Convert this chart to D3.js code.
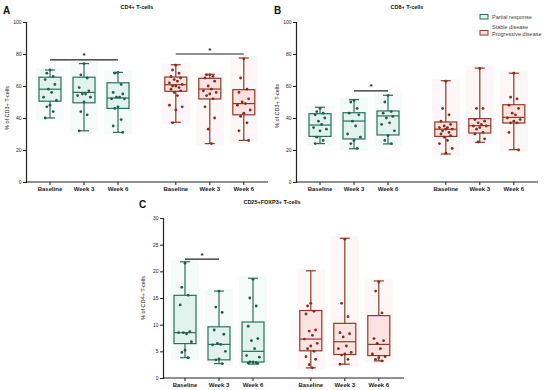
<!DOCTYPE html>
<html><head><meta charset="utf-8">
<script src="https://cdn.jsdelivr.net/npm/d3@7"></script>
<style>body{margin:0;background:#fff}svg{font-family:"Liberation Sans",Arial,sans-serif}</style>
</head><body><svg id="c" width="550" height="390"></svg>
<script>
const timepoints = ["Baseline", "Week 3", "Week 6"];
const groups = ["Partial response", "Stable disease\nProgressive disease"];

// Panel A: CD4+ T-cells (% of CD3+)
const cd4Partial = [
  [70, 68, 66, 64, 61, 58, 56, 53, 51, 48, 47, 44, 40],
  [74, 67, 65, 59, 57, 55, 55, 54, 53, 50, 44, 42, 32],
  [68.5, 68, 61, 56, 55, 53, 53, 52, 52, 47, 46, 39, 35, 31]
];
const cd4Stable = [
  [73, 70, 68, 66, 65, 64, 63, 62, 61, 60, 60, 59, 58, 57, 56, 54, 48, 47, 45, 37],
  [67, 67, 66, 65, 63, 60, 58, 57, 56, 55, 54, 52, 47, 40, 33, 24],
  [77, 65, 58, 56, 52, 50, 49, 48, 45, 43, 41, 37, 32, 26]
];
const cd4Boxes = {partial: [[40, 50.5, 58, 65.5, 70], [32, 49.5, 56, 65.5, 74], [31, 46, 52.5, 62, 68.5]],
                  stable: [[37.3, 56.7, 60.8, 65.6, 73.3], [24, 51.9, 58.1, 64.8, 67.3], [26, 42, 49, 57.7, 77.5]]};

// Panel B: CD8+ T-cells (% of CD3+)
const cd8Partial = [
  [46, 44, 43, 42, 40, 38, 36, 34, 33, 32, 28, 26, 24],
  [51, 50, 46, 43, 42, 38, 35, 30, 28, 26, 24, 21],
  [54, 50, 44, 43, 41, 40, 37, 36, 32, 29, 26, 24]
];
const cd8Stable = [
  [63, 46, 42, 38, 36, 35, 34, 34, 33, 33, 32, 31, 30, 29, 28, 26, 24, 21, 18],
  [71, 46, 46, 39, 38, 37, 36, 35, 35, 34, 33, 31, 30, 27, 25],
  [68, 53, 52, 48, 46, 43, 42, 40, 39, 38, 37, 37, 31, 20]
];
const cd8Boxes = {partial: [[24, 28.5, 35.6, 42.7, 46.7], [20.8, 26.9, 38.1, 43.3, 51.5], [23.8, 29.4, 41.3, 44.4, 54.2]],
                  stable: [[17.5, 28.5, 33, 37.5, 63.3], [24.8, 30.6, 35.2, 39.6, 71.2], [20.2, 36.9, 40.4, 48.3, 68]]};

// Panel C: CD25+FOXP3+ T-cells (% of CD4+)
const tregPartial = [
  [21.5, 17, 15.5, 13.7, 8.7, 8.5, 8.3, 8.5, 6.8, 5.2, 4.8, 3.8],
  [16.3, 13.3, 12.3, 9, 8.2, 6.5, 6.3, 6.2, 5, 3.6, 3.4, 2.7],
  [18.5, 15, 13.5, 9.7, 7.4, 7, 5.5, 4.2, 3.9, 3, 3, 2.9, 2.8, 2.7]
];
const tregStable = [
  [14, 13.5, 12.5, 12, 9, 8.8, 8, 7.3, 6.5, 6, 5.5, 5, 4, 3.5, 2.5, 1.9],
  [26, 14, 11.5, 8.5, 8.3, 7.7, 6, 5.5, 4.8, 4.5, 4.3, 3.5, 2.6],
  [18, 16.3, 12.2, 7.4, 7, 6.5, 5.5, 4.5, 4, 3.8, 3.5, 3.2]
];
const tregBoxes = {partial: [[3.8, 6.45, 8.5, 15.5, 21.8], [2.7, 3.4, 6.3, 9.6, 16.3], [2.6, 3, 5, 10.5, 18.7]],
                   stable: [[1.9, 5.1, 7.3, 12.65, 20.1], [2.6, 4.4, 6.8, 10.25, 26.2], [3.2, 4.2, 6.3, 11.7, 18.2]]};

const yTicksA = [0, 20, 40, 60, 80, 100];
const yTicksC = [0, 5, 10, 15, 20, 25, 30];

const colors = {
  partial: {stroke: "#2b6f5d", fill: "#e2f2ec", dot: "#1f5e4d", band: "#f5fbf9"},
  stable: {stroke: "#8c3b24", fill: "#fde2e2", dot: "#8a2a1c", band: "#fef6f7"}
};

const svg = d3.select("#c");

function panel(cfg) {
  const g = svg.append("g");
  const y = d3.scaleLinear().domain(cfg.domain).range([cfg.yBottom, cfg.yTop]);
  const slot = d3.scaleLinear().domain([0, 1]).range([cfg.firstX, cfg.firstX + 34]);
  const slotIdx = {partial: [0, 1, 2], stable: [3.7, 4.7, 5.7]};
  const boxW = 22, bandW = 28;

  ["partial", "stable"].forEach(key => {
    const c = colors[key];
    const pts = cfg.points[key];
    cfg.boxes[key].forEach((b, i) => {
      const cx = slot(slotIdx[key][i]);
      const [mn, q1, md, q3, mx] = b;
      g.append("rect").attr("x", cx - bandW / 2).attr("width", bandW)
        .attr("y", y(mx) - 2).attr("height", y(mn) - y(mx) + 4).attr("fill", c.band);
      g.append("line").attr("x1", cx).attr("x2", cx).attr("y1", y(mx)).attr("y2", y(mn))
        .attr("stroke", c.stroke).attr("stroke-width", 1.2);
      g.append("rect").attr("x", cx - boxW / 2).attr("width", boxW)
        .attr("y", y(q3)).attr("height", y(q1) - y(q3))
        .attr("fill", c.fill).attr("stroke", c.stroke).attr("stroke-width", 1.2);
      g.append("line").attr("x1", cx - boxW / 2).attr("x2", cx + boxW / 2).attr("y1", y(md)).attr("y2", y(md))
        .attr("stroke", c.stroke).attr("stroke-width", 1.2);
      [mn, mx].forEach(v => g.append("line").attr("x1", cx - 5).attr("x2", cx + 5).attr("y1", y(v)).attr("y2", y(v))
        .attr("stroke", c.stroke).attr("stroke-width", 1.2));
      const offs = [0, -4, 4, -6, 6, -2, 2, -8, 8];
      g.selectAll(null).data(pts[i]).enter().append("circle")
        .attr("cx", (d, j) => cx + offs[j % offs.length] * 0.8)
        .attr("cy", d => y(d)).attr("r", 1.4).attr("fill", c.dot);
    });
  });

  // axes
  const yAxis = d3.axisLeft(y).tickValues(cfg.ticks).tickSize(3).tickPadding(1.5);
  const ya = g.append("g").attr("transform", `translate(${cfg.axisX},0)`).call(yAxis);
  ya.select(".domain").attr("stroke", "#222").attr("stroke-width", 1.2);
  ya.selectAll(".tick line").attr("stroke", "#222");
  ya.selectAll("text").attr("font-size", 5).attr("fill", "#222");
  g.append("line").attr("x1", cfg.axisX).attr("x2", cfg.axisEnd).attr("y1", cfg.yBottom).attr("y2", cfg.yBottom)
    .attr("stroke", "#222").attr("stroke-width", 1.2);
  const allSlots = [0, 1, 2, 3.7, 4.7, 5.7];
  allSlots.forEach((s, i) => {
    const cx = slot(s);
    g.append("line").attr("x1", cx).attr("x2", cx).attr("y1", cfg.yBottom).attr("y2", cfg.yBottom + 3)
      .attr("stroke", "#222");
    g.append("text").attr("x", cx).attr("y", cfg.yBottom + 9).attr("text-anchor", "middle")
      .attr("font-size", 6).attr("font-weight", "bold").attr("fill", "#222").text(timepoints[i % 3]);
  });
  // titles
  g.append("text").attr("x", cfg.titleX).attr("y", cfg.titleY).attr("text-anchor", "middle")
    .attr("font-size", 5.5).attr("font-weight", "bold").attr("fill", "#111").text(cfg.title);
  g.append("text").attr("x", cfg.letterX).attr("y", cfg.letterY)
    .attr("font-size", 10).attr("font-weight", "bold").attr("fill", "#111").text(cfg.letter);
  g.append("text").attr("transform", `translate(${cfg.yTitleX},${cfg.yTitleY}) rotate(-90)`)
    .attr("text-anchor", "middle").attr("font-size", 5.5).attr("fill", "#222").text(cfg.yTitle);
  // significance
  cfg.sig.forEach(s => {
    const x1 = slot(s.from), x2 = slot(s.to);
    g.append("line").attr("x1", x1).attr("x2", x2).attr("y1", y(s.v)).attr("y2", y(s.v))
      .attr("stroke", "#222").attr("stroke-width", 1.2);
    g.append("text").attr("x", (x1 + x2) / 2).attr("y", y(s.v) - 1.5).attr("text-anchor", "middle")
      .attr("font-size", 8).attr("font-weight", "bold").attr("fill", "#222").text("*");
  });
}

panel({domain: [0, 100], ticks: yTicksA, yBottom: 182, yTop: 22, axisX: 26, axisEnd: 268, firstX: 50,
  points: {partial: cd4Partial, stable: cd4Stable}, boxes: cd4Boxes,
  title: "CD4+ T-cells", titleX: 137, titleY: 9, letter: "A", letterX: 3, letterY: 14,
  yTitle: "% of CD3+ T-cells", yTitleX: 9, yTitleY: 108,
  sig: [{from: 0, to: 2, v: 76.3}, {from: 3.7, to: 5.7, v: 80}]});

panel({domain: [0, 100], ticks: yTicksA, yBottom: 182, yTop: 22, axisX: 296, axisEnd: 538, firstX: 320,
  points: {partial: cd8Partial, stable: cd8Stable}, boxes: cd8Boxes,
  title: "CD8+ T-cells", titleX: 407, titleY: 9, letter: "B", letterX: 274, letterY: 14,
  yTitle: "% of CD3+ T-cells", yTitleX: 279, yTitleY: 106,
  sig: [{from: 1, to: 2, v: 57}]});

panel({domain: [0, 30], ticks: yTicksC, yBottom: 378, yTop: 218, axisX: 163, axisEnd: 404, firstX: 185,
  points: {partial: tregPartial, stable: tregStable}, boxes: tregBoxes,
  title: "CD25+FOXP3+ T-cells", titleX: 272, titleY: 204, letter: "C", letterX: 139, letterY: 208,
  yTitle: "% of CD4+ T-cells", yTitleX: 145, yTitleY: 298,
  sig: [{from: 0, to: 1, v: 22.3}]});

// legend
const leg = svg.append("g");
[{k: "partial", y: 17}, {k: "stable", y: 33}].forEach((d, i) => {
  leg.append("rect").attr("x", 480).attr("y", d.y - 2.5).attr("width", 8).attr("height", 4.5)
    .attr("fill", colors[d.k].fill).attr("stroke", colors[d.k].stroke).attr("stroke-width", 1);
  const lines = groups[i].split("\n");
  const t = leg.append("text").attr("x", 492).attr("font-size", 5.5).attr("fill", "#444");
  lines.forEach((l, j) => t.append("tspan").attr("x", 492)
    .attr("y", lines.length === 1 ? d.y + 2 : d.y - 4 + j * 7).text(l));
});
</script></body></html>
